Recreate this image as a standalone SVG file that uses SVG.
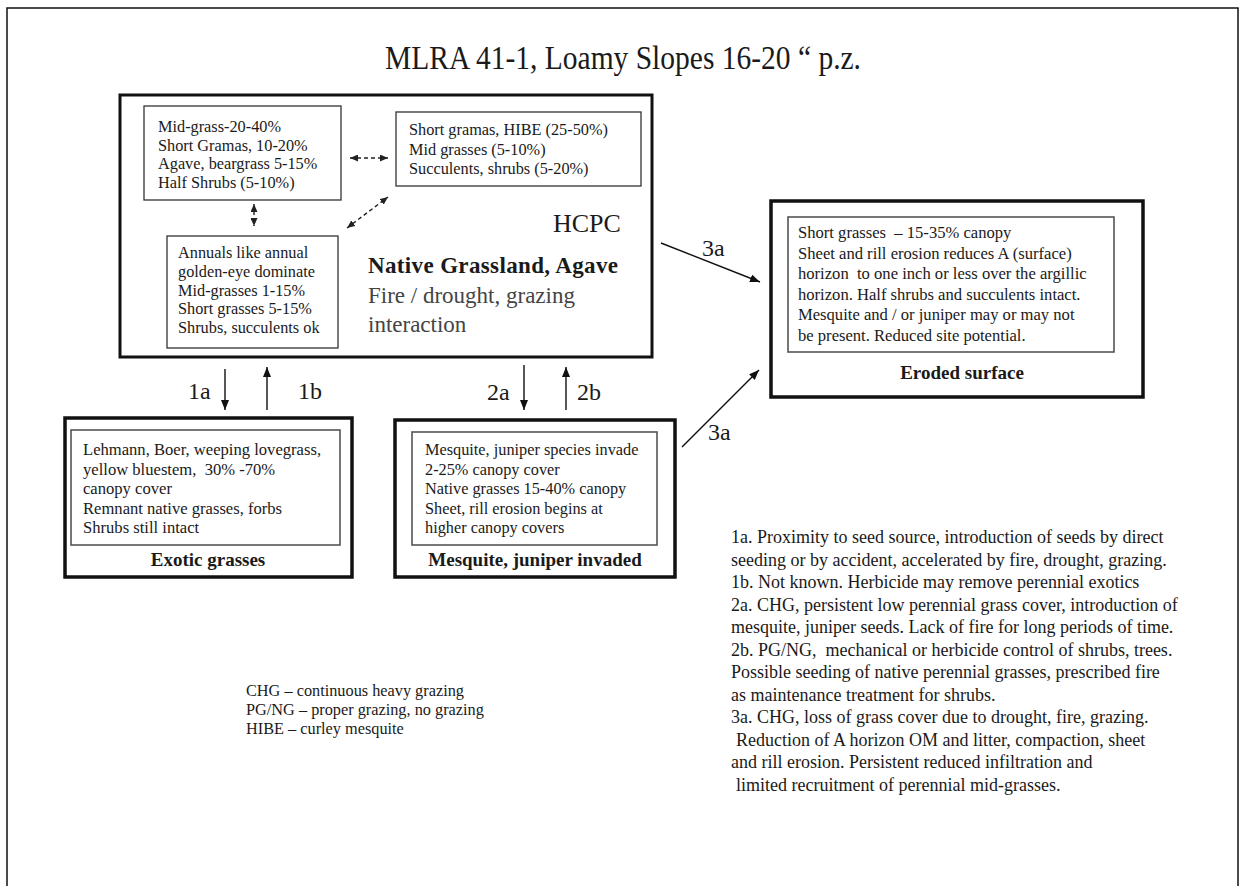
<svg xmlns="http://www.w3.org/2000/svg" width="1241" height="886" viewBox="0 0 1241 886">
<style>
text{font-family:"Liberation Serif","Times New Roman",serif;fill:#1a1a1a}
.t{font-size:16.3px}
.tw{font-size:16.6px}
.n{font-size:18px}
.b{font-weight:bold}
.lab{font-size:24px}
.thick{fill:#fff;stroke:#111;stroke-width:3.5}
.main{fill:#fff;stroke:#111;stroke-width:3}
.inner{fill:#fff;stroke:#333;stroke-width:1.3}
.inner2{fill:#fff;stroke:#555;stroke-width:1.6}
.con{stroke:#111;stroke-width:1.4;fill:none}
.dash{stroke:#222;stroke-width:1.4;fill:none;stroke-dasharray:4 3}
</style>
<defs>
<marker id="ah" viewBox="0 0 10 8" refX="10" refY="4" markerWidth="10" markerHeight="8" markerUnits="userSpaceOnUse" orient="auto"><path d="M0,0 L10,4 L0,8 Z" fill="#111"/></marker>
<marker id="dh" viewBox="0 0 8 7" refX="8" refY="3.5" markerWidth="8" markerHeight="7" markerUnits="userSpaceOnUse" orient="auto-start-reverse"><path d="M0,0 L8,3.5 L0,7 Z" fill="#222"/></marker>
</defs>
<rect width="1241" height="886" fill="#fff"/>
<path d="M7,890 V8 H1238 V890" fill="none" stroke="#111" stroke-width="1.5"/>
<text x="385" y="69" font-size="33" textLength="476" lengthAdjust="spacingAndGlyphs">MLRA 41-1, Loamy Slopes 16-20 “ p.z.</text>

<g id="hcpc">
<rect class="main" x="120" y="95" width="532" height="262"/>
<text x="553" y="232" font-size="26" fill="#222">HCPC</text>
<text x="368" y="273" font-size="23" class="b" textLength="250">Native Grassland, Agave</text>
<text x="368" y="303" font-size="23" style="fill:#444">Fire / drought, grazing</text>
<text x="368" y="332" font-size="23" style="fill:#444">interaction</text>
</g>
<g id="box1">
<rect class="inner" x="144" y="106" width="197" height="94"/>
<text class="t" x="158" y="132">Mid-grass-20-40%</text>
<text class="t" x="158" y="150.5">Short Gramas, 10-20%</text>
<text class="t" x="158" y="169">Agave, beargrass 5-15%</text>
<text class="t" x="158" y="188">Half Shrubs (5-10%)</text>
</g>
<g id="box2">
<rect class="inner" x="396" y="112" width="245" height="74"/>
<text class="t" x="409" y="135">Short gramas, HIBE (25-50%)</text>
<text class="t" x="409" y="155">Mid grasses (5-10%)</text>
<text class="t" x="409" y="174">Succulents, shrubs (5-20%)</text>
</g>
<g id="box3">
<rect class="inner" x="167" y="236" width="171" height="112"/>
<text class="t" x="178" y="258">Annuals like annual</text>
<text class="t" x="178" y="277">golden-eye dominate</text>
<text class="t" x="178" y="295.5">Mid-grasses 1-15%</text>
<text class="t" x="178" y="314">Short grasses 5-15%</text>
<text class="t" x="178" y="333">Shrubs, succulents ok</text>
</g>
<g id="eroded">
<rect class="thick" x="771" y="201" width="372" height="196"/>
<rect class="inner2" x="788" y="217" width="326" height="135"/>
<text class="tw" x="798" y="238" xml:space="preserve">Short grasses  – 15-35% canopy</text>
<text class="tw" x="798" y="258.6">Sheet and rill erosion reduces A (surface)</text>
<text class="tw" x="798" y="279.2" xml:space="preserve">horizon  to one inch or less over the argillic</text>
<text class="tw" x="798" y="299.8">horizon. Half shrubs and succulents intact.</text>
<text class="tw" x="798" y="320.4">Mesquite and / or juniper may or may not</text>
<text class="tw" x="798" y="341">be present. Reduced site potential.</text>
<text x="962" y="379" font-size="19" class="b" text-anchor="middle">Eroded surface</text>
</g>
<g id="exotic">
<rect class="thick" x="65" y="418" width="287" height="159"/>
<rect class="inner2" x="71" y="430" width="269" height="115"/>
<text class="tw" x="83" y="455">Lehmann, Boer, weeping lovegrass,</text>
<text class="tw" x="83" y="474.5" xml:space="preserve">yellow bluestem,  30% -70%</text>
<text class="tw" x="83" y="494">canopy cover</text>
<text class="tw" x="83" y="513.5">Remnant native grasses, forbs</text>
<text class="tw" x="83" y="533">Shrubs still intact</text>
<text x="208" y="566" font-size="19" class="b" text-anchor="middle">Exotic grasses</text>
</g>
<g id="mesquite">
<rect class="thick" x="395" y="420" width="280" height="157"/>
<rect class="inner2" x="412" y="432" width="245" height="113"/>
<text class="t" x="425" y="455">Mesquite, juniper species invade</text>
<text class="t" x="425" y="474.5">2-25% canopy cover</text>
<text class="t" x="425" y="494">Native grasses 15-40% canopy</text>
<text class="t" x="425" y="513.5">Sheet, rill erosion begins at</text>
<text class="t" x="425" y="533">higher canopy covers</text>
<text x="535" y="566" font-size="19" class="b" text-anchor="middle">Mesquite, juniper invaded</text>
</g>
<g id="connectors">
<line class="dash" x1="350" y1="158" x2="388" y2="158" marker-start="url(#dh)" marker-end="url(#dh)"/>
<line class="dash" x1="254" y1="204" x2="254" y2="226" marker-start="url(#dh)" marker-end="url(#dh)"/>
<line class="dash" x1="347" y1="228" x2="388" y2="197" marker-start="url(#dh)" marker-end="url(#dh)"/>
<line class="con" x1="225" y1="369" x2="225" y2="410" marker-end="url(#ah)"/>
<line class="con" x1="267" y1="410" x2="267" y2="367" marker-end="url(#ah)"/>
<line class="con" x1="524" y1="365" x2="524" y2="410" marker-end="url(#ah)"/>
<line class="con" x1="566" y1="410" x2="566" y2="367" marker-end="url(#ah)"/>
<line class="con" x1="661" y1="243" x2="760" y2="282" marker-end="url(#ah)"/>
<line class="con" x1="682" y1="447" x2="759" y2="370" marker-end="url(#ah)"/>
<text class="lab" x="188" y="399">1a</text>
<text class="lab" x="298" y="399">1b</text>
<text class="lab" x="487" y="400">2a</text>
<text class="lab" x="577" y="400">2b</text>
<text class="lab" x="702" y="256">3a</text>
<text class="lab" x="708" y="440">3a</text>
</g>
<g id="notes">
<text class="n" x="731" y="543">1a. Proximity to seed source, introduction of seeds by direct</text>
<text class="n" x="731" y="565.5">seeding or by accident, accelerated by fire, drought, grazing.</text>
<text class="n" x="731" y="588">1b. Not known. Herbicide may remove perennial exotics</text>
<text class="n" x="731" y="610.5">2a. CHG, persistent low perennial grass cover, introduction of</text>
<text class="n" x="731" y="633">mesquite, juniper seeds. Lack of fire for long periods of time.</text>
<text class="n" x="731" y="655.5" xml:space="preserve">2b. PG/NG,  mechanical or herbicide control of shrubs, trees.</text>
<text class="n" x="731" y="678">Possible seeding of native perennial grasses, prescribed fire</text>
<text class="n" x="731" y="700.5">as maintenance treatment for shrubs.</text>
<text class="n" x="731" y="723">3a. CHG, loss of grass cover due to drought, fire, grazing.</text>
<text class="n" x="736" y="745.5">Reduction of A horizon OM and litter, compaction, sheet</text>
<text class="n" x="731" y="768">and rill erosion. Persistent reduced infiltration and</text>
<text class="n" x="736" y="790.5">limited recruitment of perennial mid-grasses.</text>
</g>
<g id="abbrev">
<text class="t" x="246" y="696">CHG – continuous heavy grazing</text>
<text class="t" x="246" y="715">PG/NG – proper grazing, no grazing</text>
<text class="t" x="246" y="734">HIBE – curley mesquite</text>
</g>
</svg>
